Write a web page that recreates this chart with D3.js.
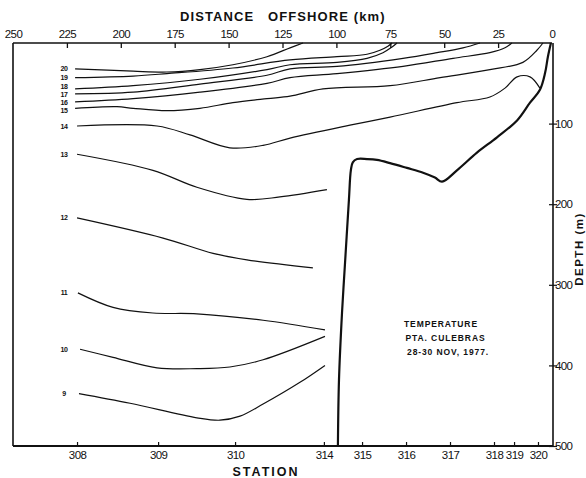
<!DOCTYPE html>
<html><head><meta charset="utf-8">
<script src="https://cdn.jsdelivr.net/npm/d3@7"></script>
<style>
body{margin:0;background:#fff}
svg{display:block}
text{font-family:"Liberation Sans",Arial,sans-serif;fill:#111}
</style>
</head><body>
<svg id="chart" width="586" height="478"></svg>
<script>
// ---------- data ----------
const distanceTicks = [250,225,200,175,150,125,100,75,50,25,0];
const depthTicks = [100,200,300,400,500];
const stationNames = ["308","309","310","314","315","316","317","318","319","320"];
const stationKm = [220.3,182.7,147.0,105.8,88.1,67.7,47.3,26.9,17.6,6.5];
const isothermLabels = [20,19,18,17,16,15,14,13,12,11,10,9];

// [distance offshore km, depth m]
const iso20 = [[221.2,32],[194.3,35],[178.6,36],[163.3,33],[148.0,27],[132.2,17],[121.5,6],[115.5,0]];
const iso19 = [[221.2,43],[194.3,41],[178.6,38],[148.0,31],[121.5,21],[99.7,17],[85.8,14],[79.8,9],[76.1,4],[74.2,0]];
const iso18 = [[221.2,57],[194.3,53],[163.3,45],[132.2,33],[121.5,27],[99.7,24],[85.8,19],[78.4,12],[74.2,5],[71.9,0]];
const iso17 = [[221.2,63],[194.3,61],[163.3,51],[132.2,40],[121.5,32],[99.7,29],[69.1,19],[53.3,12],[41.3,6],[33.4,0]];
const iso16 = [[221.2,73],[194.3,69],[163.3,61],[132.2,50],[121.5,43],[99.7,38],[69.1,29],[45.9,19],[28.8,12],[21.8,6],[18.6,0]];
const iso15 = [[221.2,81],[201.8,79],[194.3,81],[178.6,84],[163.3,81],[148.0,74],[132.2,69],[121.5,66],[106.2,57],[75.1,53],[51.9,43],[28.8,33],[13.5,24],[7.0,9],[4.2,0]];
const iso14 = [[220.3,103],[183.2,103],[167.9,114],[149.4,130],[134.0,127],[121.5,118],[93.7,102],[75.1,92],[44.1,74],[28.8,67],[21.8,56],[16.2,42],[10.2,42],[5.6,56]];
const iso13 = [[220.3,138],[185.1,158],[164.7,179],[141.5,194],[126.2,191],[104.4,182]];
const iso12 = [[220.3,217],[180.4,242],[157.2,261],[141.5,269],[110.9,279]];
const iso11 = [[219.9,310],[203.6,328],[185.1,335],[164.7,336],[134.0,344],[105.3,356]];
const iso10 = [[218.9,380],[203.6,390],[183.2,403],[164.7,404],[149.4,402],[134.0,393],[105.3,364]];
const iso9  = [[219.4,435],[195.7,447],[164.7,465],[154.0,468],[144.7,463],[134.0,448],[116.9,421],[105.3,400]];
const isotherms = [iso20,iso19,iso18,iso17,iso16,iso15,iso14,iso13,iso12,iso11,iso10,iso9];

const bathymetry = [[99.3,500],[98.8,418],[97.4,335],[96.0,273],[94.2,195],[93.3,158],[92.4,148],[90.4,144],[85.8,144],[81.2,145],[75.1,149],[67.3,155],[59.8,161],[54.3,167],[51.0,172],[44.1,158],[34.8,136],[25.5,117],[16.2,96],[10.2,74],[5.6,58],[3.2,37],[1.9,17],[0.5,0]];

const legendLines = ["TEMPERATURE","PTA.  CULEBRAS","28-30  NOV, 1977."];

// ---------- drawing ----------
const svg = d3.select("#chart");
const x = d3.scaleLinear().domain([0,250]).range([552,13]);
const y = d3.scaleLinear().domain([0,500]).range([43,446]);
const ink = "#111";
const narrow = "'Liberation Sans Narrow','Liberation Sans',Arial,sans-serif";

const line = d3.line().x(d=>x(d[0])).y(d=>y(d[1])).curve(d3.curveCatmullRom.alpha(0.5));

// frame lines
svg.append("line").attr("x1",x(250)).attr("x2",x(0)).attr("y1",y(0)).attr("y2",y(0))
  .attr("stroke",ink).attr("stroke-width",1.4);
svg.append("line").attr("x1",x(250)).attr("x2",x(250)).attr("y1",y(0)).attr("y2",y(500))
  .attr("stroke",ink).attr("stroke-width",1.6);
svg.append("line").attr("x1",x(250)).attr("x2",x(0)+1).attr("y1",y(500)).attr("y2",y(500))
  .attr("stroke",ink).attr("stroke-width",1.8);
svg.append("line").attr("x1",x(0)+1).attr("x2",x(0)+1).attr("y1",y(0)).attr("y2",y(500))
  .attr("stroke",ink).attr("stroke-width",1.6);

// top axis (distance offshore)
const topAxis = svg.append("g").attr("transform",`translate(0,${y(0)})`)
  .call(d3.axisTop(x).tickValues(distanceTicks).tickSizeInner(-5).tickSizeOuter(0).tickPadding(5).tickFormat(d3.format("d")));
topAxis.select(".domain").remove();
topAxis.selectAll(".tick line").attr("stroke",ink).attr("stroke-width",1.3)
  .filter(d=>d===250||d===0).remove();
topAxis.selectAll(".tick text").attr("font-size",11.5).attr("fill",ink).attr("letter-spacing",-0.6)
  .attr("font-family",narrow);

// bottom axis (stations)
const bottomAxis = svg.append("g").attr("transform",`translate(0,${y(500)})`)
  .call(d3.axisBottom(x).tickValues(stationKm).tickSizeInner(-4).tickSizeOuter(0).tickPadding(5)
    .tickFormat((d,i)=>stationNames[i]));
bottomAxis.select(".domain").remove();
bottomAxis.selectAll(".tick line").attr("stroke",ink).attr("stroke-width",1.2);
bottomAxis.selectAll(".tick text").attr("font-size",11.5).attr("fill",ink).attr("letter-spacing",-0.6)
  .attr("font-family",narrow);

// right axis (depth)
const rightAxis = svg.append("g").attr("transform",`translate(${x(0)+1},0)`)
  .call(d3.axisRight(y).tickValues(depthTicks).tickSizeInner(-4).tickSizeOuter(0).tickPadding(2));
rightAxis.select(".domain").remove();
rightAxis.selectAll(".tick line").attr("stroke",ink).attr("stroke-width",1.2).attr("x2",4).attr("x1",-4);
rightAxis.selectAll(".tick text").attr("font-size",11.5).attr("fill",ink).attr("letter-spacing",-0.6)
  .attr("font-family",narrow);

// axis titles
svg.append("text").attr("x",180).attr("y",21).attr("font-size",13).attr("font-weight","bold")
  .attr("letter-spacing",1.1).text("DISTANCE");
svg.append("text").attr("x",268).attr("y",21).attr("font-size",13).attr("font-weight","bold")
  .attr("letter-spacing",1.1).text("OFFSHORE (km)");
svg.append("text").attr("x",266).attr("y",476).attr("text-anchor","middle").attr("font-size",12.5)
  .attr("font-weight","bold").attr("letter-spacing",2).text("STATION");
svg.append("text").attr("transform","translate(582.5,249) rotate(-90)").attr("text-anchor","middle")
  .attr("font-size",11.5).attr("font-weight","bold").attr("letter-spacing",1.5).text("DEPTH (m)");

// isotherms
svg.append("g").selectAll("path").data(isotherms).join("path")
  .attr("d",line).attr("fill","none").attr("stroke",ink).attr("stroke-width",1.2);

// isotherm labels: start at each line's first point, relaxed apart so they do not collide
const labelY = isotherms.map(d=>y(d[0][1]));
const minGap = 8;
for (let it=0; it<60; it++) {
  for (let i=1; i<labelY.length; i++) {
    const gap = labelY[i]-labelY[i-1];
    if (gap < minGap) { const push=(minGap-gap)/2; labelY[i-1]-=push; labelY[i]+=push; }
  }
}
svg.append("g").selectAll("text").data(isotherms).join("text")
  .attr("x",64).attr("y",(d,i)=>labelY[i]+2.5).attr("text-anchor","middle")
  .attr("font-size",7).attr("font-weight","bold").attr("letter-spacing",-0.4)
  .text((d,i)=>isothermLabels[i]);

// bathymetry
svg.append("path").datum(bathymetry).attr("d",line).attr("fill","none")
  .attr("stroke",ink).attr("stroke-width",2.2).attr("stroke-linejoin","round");

// legend text
svg.append("g").selectAll("text").data(legendLines).join("text")
  .attr("x",(d,i)=>404+i*1.5).attr("y",(d,i)=>327+i*14)
  .attr("font-size",8.5).attr("font-weight","bold").attr("letter-spacing",0.9)
  .text(d=>d);
</script>
</body></html>
